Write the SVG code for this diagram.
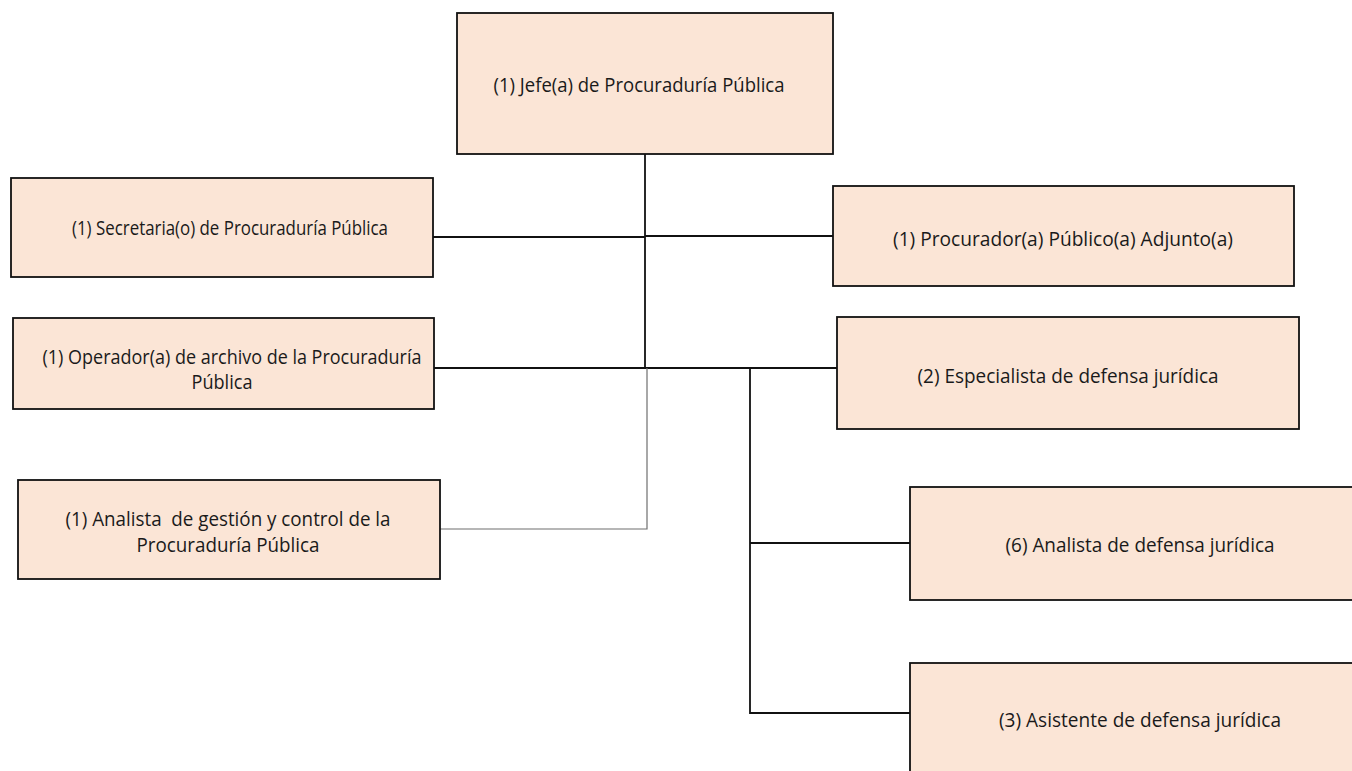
<svg xmlns="http://www.w3.org/2000/svg" width="1352" height="771" viewBox="0 0 1352 771">
  <style>
    .box { fill: #FBE5D6; stroke: #111; stroke-width: 1.8; }
    .lbl { font-family: "Open Sans", Lato, "Liberation Sans", sans-serif; font-size: 19.5px; fill: #1a1a1a; text-anchor: middle; }
    .wire { fill: none; stroke: #111; stroke-width: 1.8; }
    .thin { fill: none; stroke: #6f6f6f; stroke-width: 1.2; }
  </style>
  <rect width="1352" height="771" fill="#ffffff"/>

  <!-- connectors -->
  <g id="connectors">
    <path class="wire" d="M645,154 V368"/>
    <path class="wire" d="M433,237 H645"/>
    <path class="wire" d="M645,236 H833"/>
    <path class="wire" d="M434,368 H837"/>
    <path class="wire" d="M750,368 V713 H910"/>
    <path class="wire" d="M750,543 H910"/>
    <path class="thin" d="M647,368 V529 H440"/>
  </g>

  <g id="jefe">
    <rect class="box" x="457" y="13" width="376" height="141"/>
    <text class="lbl" x="639" y="92" textLength="291" lengthAdjust="spacingAndGlyphs">(1) Jefe(a) de Procuraduría Pública</text>
  </g>

  <g id="secretaria">
    <rect class="box" x="11" y="178" width="422" height="99"/>
    <text class="lbl" x="230" y="235" textLength="316" lengthAdjust="spacingAndGlyphs">(1) Secretaria(o) de Procuraduría Pública</text>
  </g>

  <g id="procurador-adjunto">
    <rect class="box" x="833" y="186" width="461" height="100"/>
    <text class="lbl" x="1063" y="246" textLength="340" lengthAdjust="spacingAndGlyphs">(1) Procurador(a) Público(a) Adjunto(a)</text>
  </g>

  <g id="operador-archivo">
    <rect class="box" x="13" y="318" width="421" height="91"/>
    <text class="lbl" x="232" y="364" textLength="379" lengthAdjust="spacingAndGlyphs">(1) Operador(a) de archivo de la Procuraduría</text>
    <text class="lbl" x="222" y="389" textLength="61" lengthAdjust="spacingAndGlyphs">Pública</text>
  </g>

  <g id="especialista">
    <rect class="box" x="837" y="317" width="462" height="112"/>
    <text class="lbl" x="1068" y="383" textLength="301" lengthAdjust="spacingAndGlyphs">(2) Especialista de defensa jurídica</text>
  </g>

  <g id="analista-gestion">
    <rect class="box" x="18" y="480" width="422" height="99"/>
    <text class="lbl" x="228" y="526" textLength="325" lengthAdjust="spacingAndGlyphs" xml:space="preserve">(1) Analista  de gestión y control de la</text>
    <text class="lbl" x="228" y="552" textLength="183" lengthAdjust="spacingAndGlyphs">Procuraduría Pública</text>
  </g>

  <g id="analista-defensa">
    <rect class="box" x="910" y="487" width="450" height="113"/>
    <text class="lbl" x="1140" y="552" textLength="269" lengthAdjust="spacingAndGlyphs">(6) Analista de defensa jurídica</text>
  </g>

  <g id="asistente">
    <rect class="box" x="910" y="663" width="450" height="120"/>
    <text class="lbl" x="1140" y="727" textLength="282" lengthAdjust="spacingAndGlyphs">(3) Asistente de defensa jurídica</text>
  </g>
</svg>
